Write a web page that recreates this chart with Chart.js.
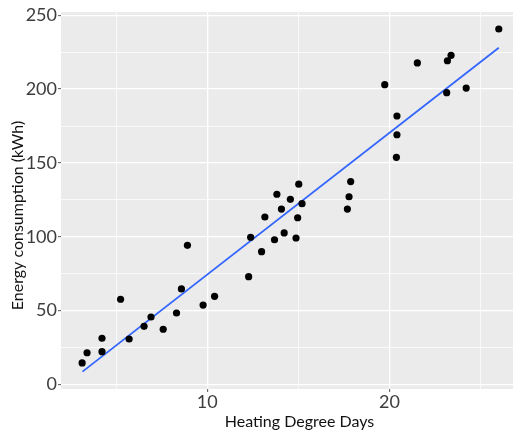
<!DOCTYPE html>
<html>
<head>
<meta charset="utf-8">
<script src="https://cdn.jsdelivr.net/npm/chart.js@4/dist/chart.umd.min.js"></script>
<style>
  html, body { margin: 0; padding: 0; background: #ffffff; }
  #wrap { width: 517px; height: 433px; }
</style>
</head>
<body>
<div id="wrap"><canvas id="c" width="517" height="433"></canvas></div>
<script>
// Observations
const degreeDays = [3.13, 3.40, 4.22, 4.22, 5.24, 5.71, 6.53, 6.91, 7.58, 8.31,
                    8.58, 8.91, 9.77, 10.40, 12.27, 12.38, 12.98, 13.16, 13.69, 13.82,
                    14.07, 14.22, 14.56, 15.02, 15.20, 14.96, 14.87, 17.69, 17.78, 17.87,
                    19.74, 20.41, 20.41, 20.38, 21.53, 23.14, 23.18, 23.38, 24.21, 26.00];
const energyKWh  = [14.6, 21.5, 31.3, 22.2, 57.7, 30.8, 39.4, 45.7, 37.4, 48.4,
                    64.7, 94.2, 53.8, 59.7, 73.0, 99.7, 89.9, 113.4, 98.0, 128.8,
                    118.8, 102.6, 125.4, 135.6, 122.4, 112.9, 99.2, 118.8, 127.1, 137.4,
                    203.0, 181.8, 169.1, 153.8, 217.7, 197.6, 219.2, 222.9, 200.7, 240.7];
// Fitted line end points
const fitX = [3.15, 26.0];
const fitY = [8.7, 228.0];
// Axis ticks
const xGridValues = [5, 10, 15, 20, 25];
const xTickLabels = [10, 20];
const yGridValues = [0, 25, 50, 75, 100, 125, 150, 175, 200, 225, 250];
const yTickLabels = [0, 50, 100, 150, 200, 250];
// Axis titles
const xTitle = 'Heating Degree Days';
const yTitle = 'Energy consumption (kWh)';

const pointData = degreeDays.map((x, i) => ({ x: x, y: energyKWh[i] }));
const lineData = fitX.map((x, i) => ({ x: x, y: fitY[i] }));

const panelBg = {
  id: 'panelBg',
  beforeDraw(chart) {
    const a = chart.chartArea, ctx = chart.ctx;
    ctx.save();
    ctx.fillStyle = '#EBEBEB';
    ctx.fillRect(a.left, a.top, a.right - a.left, a.bottom - a.top);
    ctx.restore();
  }
};

// Axis titles, placed as in the reference (slightly off the panel centre)
const axisTitles = {
  id: 'axisTitles',
  afterDraw(chart) {
    const a = chart.chartArea, ctx = chart.ctx;
    ctx.save();
    ctx.font = '16px Lato';
    ctx.fillStyle = '#111111';
    ctx.textAlign = 'center';
    ctx.textBaseline = 'middle';
    ctx.fillText(xTitle, (a.left + a.right) / 2 + 12.5, 421.5);
    ctx.translate(17.5, (a.top + a.bottom) / 2 + 15);
    ctx.rotate(-Math.PI / 2);
    ctx.fillText(yTitle, 0, 0);
    ctx.restore();
  }
};

const tickFont = { family: 'Lato', size: 18 };
const tickColor = '#3d3d3d';

new Chart(document.getElementById('c'), {
  type: 'scatter',
  data: {
    datasets: [
      {
        label: 'fit',
        data: lineData,
        showLine: true,
        borderColor: '#3366FF',
        borderWidth: 1.8,
        pointRadius: 0,
        fill: false,
        order: 2
      },
      {
        label: 'observations',
        data: pointData,
        backgroundColor: '#000000',
        borderColor: '#000000',
        borderWidth: 0,
        pointRadius: 3.6,
        order: 1
      }
    ]
  },
  options: {
    responsive: false,
    animation: false,
    devicePixelRatio: 1,
    layout: { padding: { top: 12, right: 1, left: 0, bottom: 0 } },
    plugins: { legend: { display: false }, tooltip: { enabled: false } },
    scales: {
      x: {
        type: 'linear',
        min: 1.97,
        max: 26.78,
        afterBuildTicks: s => { s.ticks = xGridValues.map(v => ({ value: v })); },
        afterFit: s => { s.height = 44; },
        border: { display: false },
        grid: {
          color: '#ffffff',
          lineWidth: c => (xTickLabels.includes(c.tick && c.tick.value) ? 1.3 : 0.7),
          drawTicks: true,
          tickLength: 3,
          tickColor: c => (xTickLabels.includes(c.tick && c.tick.value) ? '#555555' : 'rgba(0,0,0,0)'),
          tickWidth: 1
        },
        ticks: {
          autoSkip: false,
          maxRotation: 0,
          padding: -1,
          font: tickFont,
          color: tickColor,
          callback: v => (xTickLabels.includes(v) ? String(v) : '')
        },
        title: { display: false, text: xTitle }
      },
      y: {
        type: 'linear',
        min: -3.05,
        max: 252.2,
        afterBuildTicks: s => { s.ticks = yGridValues.map(v => ({ value: v })); },
        afterFit: s => { s.width = 61; },
        border: { display: false },
        grid: {
          color: '#ffffff',
          lineWidth: c => (yTickLabels.includes(c.tick && c.tick.value) ? 1.3 : 0.7),
          drawTicks: true,
          tickLength: 3,
          tickColor: c => (yTickLabels.includes(c.tick && c.tick.value) ? '#555555' : 'rgba(0,0,0,0)'),
          tickWidth: 1
        },
        ticks: {
          autoSkip: false,
          padding: 1,
          font: tickFont,
          color: tickColor,
          callback: v => (yTickLabels.includes(v) ? String(v) : '')
        },
        title: { display: false, text: yTitle }
      }
    }
  },
  plugins: [panelBg, axisTitles]
});
</script>
</body>
</html>
